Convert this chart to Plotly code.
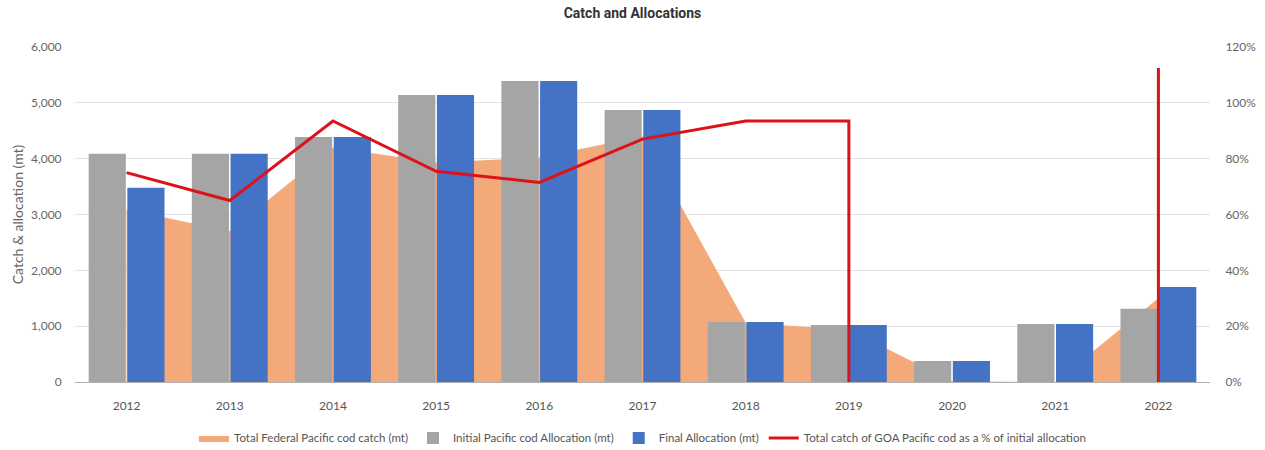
import plotly.graph_objects as go

# data
years = ['2012', '2013', '2014', '2015', '2016', '2017', '2018', '2019', '2020', '2021', '2022']
federal_catch = [3090, 2700, 4200, 3930, 4020, 4400, 1060, 940, 10, 0, 1500]
initial_alloc = [4090, 4090, 4390, 5140, 5390, 4870, 1075, 1020, 376, 1040, 1310]
final_alloc = [3480, 4090, 4390, 5140, 5390, 4870, 1075, 1020, 376, 1040, 1700]

# percent line: drops straight to zero at 2019, resumes from zero at 2022
pct_years = ['2012', '2013', '2014', '2015', '2016', '2017', '2018', '2019', '2019', None, '2022', '2022']
pct_catch = [0.75, 0.65, 0.935, 0.755, 0.715, 0.87, 0.935, 0.935, 0.0, None, 0.0, 1.125]

FONT = "Lato, 'Noto Sans', sans-serif"

fig = go.Figure()

# area sits on the base axis so it stays behind the bars
fig.add_trace(go.Scatter(
    x=years, y=federal_catch, name='Total Federal Pacific cod catch (mt)',
    mode='lines', fill='tozeroy', line=dict(color='#F4A97A', width=0),
    fillcolor='#F4A97A', yaxis='y'))

fig.add_trace(go.Bar(
    x=years, y=initial_alloc, name='Initial Pacific cod Allocation (mt)',
    marker=dict(color='#A5A5A5', line=dict(width=0)), yaxis='y2'))
fig.add_trace(go.Bar(
    x=years, y=final_alloc, name='Final Allocation (mt)',
    marker=dict(color='#4472C4', line=dict(width=0)), yaxis='y2'))

fig.add_trace(go.Scatter(
    x=pct_years, y=pct_catch, name='Total catch of GOA Pacific cod as a % of initial allocation',
    mode='lines', line=dict(color='#DC1219', width=3), connectgaps=False, yaxis='y3'))

fig.update_layout(
    width=1265, height=450,
    margin=dict(l=75, r=55, t=47, b=68, autoexpand=False),
    paper_bgcolor='white', plot_bgcolor='white',
    font=dict(family=FONT, size=12, color='#666'),
    title=dict(text='<b>Catch and Allocations</b>', x=0.5, xanchor='center', y=0.971, yanchor='middle',
               font=dict(family='Roboto, sans-serif', size=14, color='#333')),
    barmode='group', bargap=0.25, bargroupgap=0.04,
    showlegend=True,
    legend=dict(orientation='h', x=0.5, xanchor='center', y=-0.167, yanchor='middle',
                font=dict(size=11.5, color='#555'), itemwidth=30, tracegroupgap=0),
    xaxis=dict(type='category', range=[-0.5, 10.5], showgrid=False, automargin=False,
               showline=True, linecolor='#B0B0B0', linewidth=1,
               ticks='outside', ticklen=13, tickcolor='rgba(0,0,0,0)',
               tickfont=dict(size=12, color='#555')),
    yaxis=dict(range=[0, 6000], tickvals=[0, 1000, 2000, 3000, 4000, 5000, 6000], automargin=False,
               tickformat=',d', showgrid=True, gridcolor='#E3E3E3', zeroline=False,
               ticks='outside', ticklen=10, tickcolor='rgba(0,0,0,0)',
               tickfont=dict(size=12, color='#666'),
               title=dict(text='Catch & allocation (mt)', standoff=4,
                          font=dict(size=14, color='#666'))),
    yaxis2=dict(overlaying='y', range=[0, 6000], visible=False, showgrid=False, automargin=False),
    yaxis3=dict(overlaying='y', side='right', range=[0, 1.2], automargin=False,
                tickvals=[0, 0.2, 0.4, 0.6, 0.8, 1.0, 1.2], tickformat='.0%',
                showgrid=False, zeroline=False,
                ticks='outside', ticklen=12, tickcolor='rgba(0,0,0,0)',
                tickfont=dict(size=12, color='#666')),
)

# drop the default 8px page margin so the figure sits at the window origin
fig.write_html("out.html", config={'displayModeBar': False},
               post_script="document.body.style.margin='0';")
